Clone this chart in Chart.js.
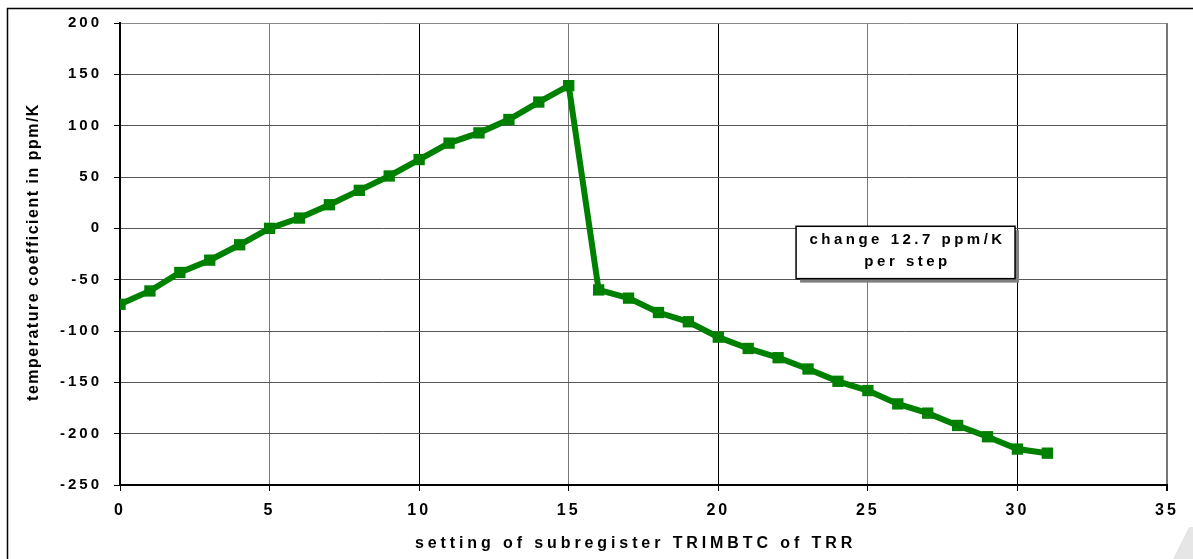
<!DOCTYPE html>
<html>
<head>
<meta charset="utf-8">
<script src="https://cdn.jsdelivr.net/npm/chart.js@4"></script>
<style>
    html, body { margin: 0; padding: 0; background: #fff; }
    #wrap { width: 1193px; height: 559px; }
</style>
</head>
<body>
<div id="wrap"><canvas id="trimChart" width="1193" height="559"></canvas></div>
<script>
// TRIMBTC setting vs temperature coefficient
const settings = [0, 1, 2, 3, 4, 5, 6, 7, 8, 9, 10, 11, 12, 13, 14, 15,
                  16, 17, 18, 19, 20, 21, 22, 23, 24, 25, 26, 27, 28, 29, 30, 31];
const tempCoeff = [-74, -61, -43, -31, -16, 0, 10, 23, 37, 51, 67, 83, 93, 106, 123, 139,
                   -60, -68, -82, -91, -106, -117, -126, -137, -149, -158, -171, -180, -192, -203, -215, -219];
const xTicks = [0, 5, 10, 15, 20, 25, 30, 35];
const yTicks = [-250, -200, -150, -100, -50, 0, 50, 100, 150, 200];
const noteLines = ['change 12.7 ppm/K', 'per step'];
const xTitle = 'setting of subregister TRIMBTC of TRR';
const yTitle = 'temperature coefficient in ppm/K';

const FONT = '"Liberation Sans", Arial, sans-serif';
const GREEN = 'rgb(0,128,0)';

const Decor = {
    id: 'decor',
    beforeLayout(chart) {
        chart.ctx.letterSpacing = '3px';
    },
    beforeDraw(chart) {
        const ctx = chart.ctx;
        ctx.save();
        ctx.fillStyle = '#fff';
        ctx.fillRect(0, 0, chart.width, chart.height);
        // outer frame
        ctx.strokeStyle = '#000';
        ctx.lineWidth = 1.5;
        ctx.strokeRect(7.5, 8.5, 1400, 1000);
        // grey corner mark
        ctx.fillStyle = '#e6e6e6';
        ctx.beginPath();
        ctx.moveTo(1173, 559);
        ctx.lineTo(1189, 527);
        ctx.lineTo(1193, 527);
        ctx.lineTo(1193, 559);
        ctx.closePath();
        ctx.fill();
        ctx.restore();
        ctx.letterSpacing = '3px';
    },
    afterDraw(chart) {
        const ctx = chart.ctx;
        const xs = chart.scales.x, ys = chart.scales.y;
        const area = chart.chartArea;
        ctx.save();
        ctx.fillStyle = '#000';
        ctx.textAlign = 'center';
        ctx.textBaseline = 'middle';

        // x title
        ctx.letterSpacing = '3.9px';
        ctx.font = 'bold 16px ' + FONT;
        ctx.fillText(xTitle, (area.left + area.right) / 2 - 8, 544);

        // y title
        ctx.save();
        ctx.translate(34, (area.top + area.bottom) / 2 - 2);
        ctx.rotate(-Math.PI / 2);
        ctx.letterSpacing = '1.5px';
        ctx.fillText(yTitle, 0, 0);
        ctx.restore();

        // note box (placed in data units)
        const x0 = xs.getPixelForValue(22.6), x1 = xs.getPixelForValue(29.92);
        const y0 = ys.getPixelForValue(2), y1 = ys.getPixelForValue(-49);
        ctx.fillStyle = '#808080';
        ctx.fillRect(x0 + 4, y0 + 4, x1 - x0, y1 - y0);
        ctx.fillStyle = '#fff';
        ctx.fillRect(x0, y0, x1 - x0, y1 - y0);
        ctx.strokeStyle = '#000';
        ctx.lineWidth = 1.5;
        ctx.strokeRect(x0, y0, x1 - x0, y1 - y0);
        ctx.fillStyle = '#000';
        ctx.letterSpacing = '3.5px';
        ctx.font = 'bold 15px ' + FONT;
        const cx = (x0 + x1) / 2 + 2;
        ctx.fillText(noteLines[0], cx, y0 + 14);
        ctx.fillText(noteLines[1], cx, y0 + 36);
        ctx.restore();
    }
};

const points = settings.map((s, i) => ({ x: s, y: tempCoeff[i] }));

new Chart(document.getElementById('trimChart'), {
    type: 'line',
    data: {
        datasets: [{
            data: points,
            borderColor: GREEN,
            backgroundColor: GREEN,
            borderWidth: 6,
            pointStyle: 'rect',
            pointRadius: 8,
            pointBorderWidth: 0,
            pointBackgroundColor: GREEN,
            tension: 0
        }]
    },
    options: {
        responsive: false,
        animation: false,
        devicePixelRatio: 1,
        layout: { padding: { top: 23, right: 26, left: 0, bottom: 0 } },
        plugins: {
            legend: { display: false },
            tooltip: { enabled: false }
        },
        scales: {
            x: {
                type: 'linear',
                min: 0,
                max: 35,
                afterBuildTicks: scale => { scale.ticks = xTicks.map(v => ({ value: v })); },
                afterFit: scale => { scale.height = 74; },
                ticks: {
                    color: '#000',
                    font: { family: FONT, size: 16, weight: 'bold' },
                    padding: 10,
                    maxRotation: 0
                },
                grid: {
                    color: ctx => (ctx.tick && ctx.tick.value % 10 === 0) ? '#000' : '#777',
                    lineWidth: ctx => (ctx.tick && ctx.tick.value === 35) ? 2 : 1,
                    tickLength: 6,
                    tickColor: '#000'
                },
                border: { color: '#000', width: 2 }
            },
            y: {
                min: -250,
                max: 200,
                afterBuildTicks: scale => { scale.ticks = yTicks.map(v => ({ value: v })); },
                afterFit: scale => { scale.width = 120; },
                ticks: {
                    color: '#000',
                    font: { family: FONT, size: 15, weight: 'bold' },
                    padding: 12
                },
                grid: {
                    color: ctx => (ctx.tick && ctx.tick.value === 200) ? '#888' : '#555',
                    lineWidth: 1,
                    tickLength: 6,
                    tickColor: '#000'
                },
                border: { color: '#000', width: 2 }
            }
        }
    },
    plugins: [Decor]
});
</script>
</body>
</html>
